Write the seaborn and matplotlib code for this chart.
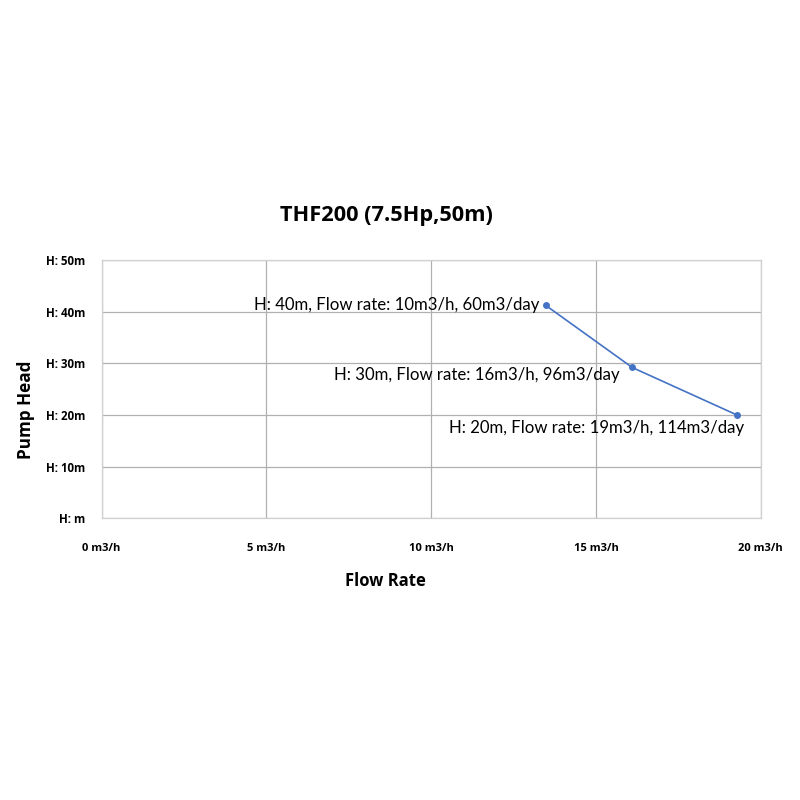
import matplotlib
matplotlib.use("Agg")
import matplotlib.pyplot as plt
import seaborn as sns
import pandas as pd

flow = [13.48, 16.1, 19.28]
head = [41.2, 29.2, 20.0]
labels = ["H: 40m, Flow rate: 10m3/h, 60m3/day",
          "H: 30m, Flow rate: 16m3/h, 96m3/day",
          "H: 20m, Flow rate: 19m3/h, 114m3/day"]
x_ticks = [0, 5, 10, 15, 20]
x_ticklabels = ["0 m3/h", "5 m3/h", "10 m3/h", "15 m3/h", "20 m3/h"]
y_ticks = [0, 10, 20, 30, 40, 50]
y_ticklabels = ["H: m", "H: 10m", "H: 20m", "H: 30m", "H: 40m", "H: 50m"]

sns.set_theme(style="white")
plt.rcParams['font.family'] = ['Open Sans', 'DejaVu Sans']
plt.rcParams['text.color'] = 'black'
plt.rcParams['xtick.color'] = 'black'
plt.rcParams['ytick.color'] = 'black'

df = pd.DataFrame({"flow": flow, "head": head})

fig = plt.figure(figsize=(8, 8), dpi=100)
ax = fig.add_axes([0.127, 0.352, 0.824, 0.323])
sns.lineplot(data=df, x="flow", y="head", ax=ax, color="#4472C4", linewidth=1.2,
             marker="o", markersize=5, markeredgewidth=0, sort=False)

ax.set_xlim(0, 20)
ax.set_ylim(0, 50)
ax.set_xticks(x_ticks)
ax.set_xticklabels(x_ticklabels, fontsize=8, fontweight="bold")
ax.set_yticks(y_ticks)
ax.set_yticklabels(y_ticklabels, fontsize=8.3, fontweight="bold")
ax.tick_params(axis="x", length=0, pad=18)
ax.tick_params(axis="y", length=0, pad=12)
ax.grid(True, color="#b0b0b0", linewidth=0.9)
ax.set_axisbelow(True)
for s in ax.spines.values():
    s.set_color("#d0d0d0")
    s.set_linewidth(0.9)

ax.set_xlabel("")
ax.set_ylabel("")
fig.text(0.482, 0.274, "Flow Rate", fontsize=12, fontweight="bold", ha="center", va="center")
fig.text(0.032, 0.488, "Pump Head", fontsize=12.3, fontweight="bold", ha="center", va="center",
         rotation=90)
fig.text(0.4825, 0.731, "THF200 (7.5Hp,50m)", fontsize=15.7, fontweight="bold",
         ha="center", va="center")

offsets = [(-5, 0), (-9, -5.5), (5, -9)]
for x, y, t, off in zip(flow, head, labels, offsets):
    ax.annotate(t, (x, y), xytext=off, textcoords="offset points",
                ha="right", va="center", fontsize=12.1, family=["Lato", "DejaVu Sans"],
                color="black")

fig.savefig("out.png", dpi=100)
